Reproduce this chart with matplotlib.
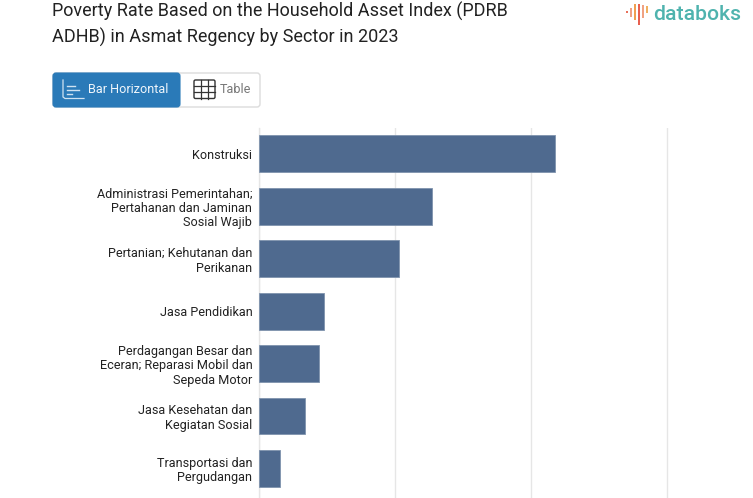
import matplotlib
matplotlib.use("Agg")
import matplotlib.pyplot as plt
from matplotlib.patches import FancyBboxPatch, Rectangle
from matplotlib.ticker import MultipleLocator

plt.rcParams['font.family'] = ['Roboto', 'DejaVu Sans']

categories = [
    "Konstruksi",
    "Administrasi Pemerintahan;\nPertahanan dan Jaminan\nSosial Wajib",
    "Pertanian; Kehutanan dan\nPerikanan",
    "Jasa Pendidikan",
    "Perdagangan Besar dan\nEceran; Reparasi Mobil dan\nSepeda Motor",
    "Jasa Kesehatan dan\nKegiatan Sosial",
    "Transportasi dan\nPergudangan",
]
values = [21.8, 12.75, 10.3, 4.85, 4.45, 3.45, 1.6]
title_lines = ["Poverty Rate Based on the Household Asset Index (PDRB",
               "ADHB) in Asmat Regency by Sector in 2023"]
BAR = "#4f6a8f"
W, H = 753, 498

fig = plt.figure(figsize=(W / 100, H / 100), dpi=100, facecolor="white")

# Chart axes
left, right, top, bottom = 258.5, 734.5, 128, 498
ax = fig.add_axes([left / W, 1 - bottom / H, (right - left) / W, (bottom - top) / H])
ax.barh(range(len(values)), values, height=0.705, color=BAR, edgecolor="#7f93ad", linewidth=0.6, zorder=3)
ax.set_xlim(0, 35)
ax.set_ylim(6 + 0.565, -0.495)
ax.xaxis.set_major_locator(MultipleLocator(10))
ax.tick_params(axis="x", length=0, labelbottom=False)
ax.tick_params(axis="y", length=0, pad=4.5)
ax.set_yticks(range(len(categories)))
ax.set_yticklabels(categories, fontsize=9.1, color="#222222", linespacing=1.13, ha="right")
ax.grid(axis="x", color="#e6e6e6", linewidth=1, zorder=0)
for s in ["top", "right", "bottom"]:
    ax.spines[s].set_visible(False)
ax.spines["left"].set_color("#e6e6e6")
ax.spines["left"].set_linewidth(1)

# Overlay in pixel coordinates for the page furniture
ov = fig.add_axes([0, 0, 1, 1], zorder=5)
ov.set_xlim(0, W)
ov.set_ylim(H, 0)
ov.axis("off")

ov.text(52, 11, title_lines[0], fontsize=13.0, color="#222222", va="center", ha="left")
ov.text(52, 37, title_lines[1], fontsize=13.0, color="#222222", va="center", ha="left")

# Toggle buttons
ov.add_patch(FancyBboxPatch((53, 73), 207, 34, boxstyle="round,pad=0,rounding_size=3",
                            fc="white", ec="#dcdcdc", lw=1))
ov.add_patch(FancyBboxPatch((53, 73), 127, 34, boxstyle="round,pad=0,rounding_size=3",
                            fc="#2a7ab8", ec="#2a7ab8", lw=0.8))
ov.text(88.5, 89.5, "Bar Horizontal", fontsize=9.1, color="#eef5fb", va="center", ha="left")
ov.text(220, 89.5, "Table", fontsize=9.1, color="#777777", va="center", ha="left")

# Bar icon
ov.plot([63, 63, 65, 84], [80, 97, 98.5, 98.5], color="#cfe2f1", lw=0.9)
for y, x1 in [(86, 75), (90, 79), (94, 72)]:
    ov.plot([67.5, x1], [y, y], color="#cfe2f1", lw=1)

# Table icon
ov.add_patch(FancyBboxPatch((194, 80), 21, 18.5, boxstyle="round,pad=0,rounding_size=1.5",
                            fc="none", ec="#333333", lw=1))
for x in [201, 208]:
    ov.plot([x, x], [80, 98.5], color="#333333", lw=0.9)
for y in [86, 92]:
    ov.plot([194, 215], [y, y], color="#333333", lw=0.9)

# Logo
for x, y0, y1, c in [(627, 10.5, 13, "#e8705a"), (631, 8, 17, "#f0a283"), (635, 4, 20, "#f0a050"),
                     (639, 3.5, 25, "#e8604f"), (643, 5, 18, "#f0a283"), (647, 6, 13, "#f0b060")]:
    ov.add_patch(Rectangle((x - 1, y0), 2.2, y1 - y0, fc=c, ec="none"))
ov.text(653, 14.5, "databoks", fontsize=15.2, color="#4fb3ae", va="center", ha="left", fontweight="medium")

fig.savefig("out.png", dpi=100)
